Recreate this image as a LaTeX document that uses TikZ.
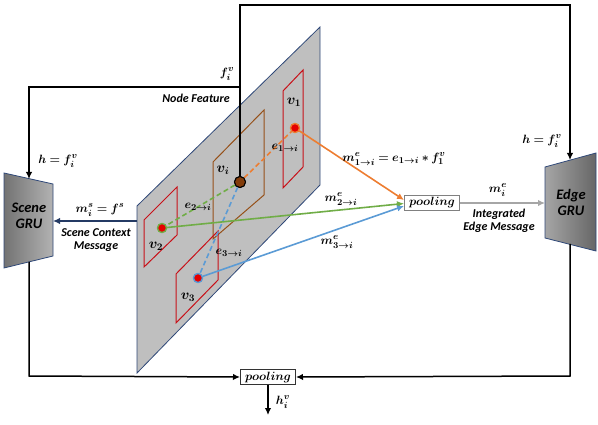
\documentclass[tikz,border=0pt]{standalone}
\usepackage{fontspec}
\setsansfont{Carlito}
\usepackage{amsmath,bm}
\usetikzlibrary{arrows.meta}

\definecolor{planegray}{RGB}{191,191,191}
\definecolor{planeblue}{RGB}{47,72,120}
\definecolor{boxred}{RGB}{200,16,24}
\definecolor{boxbrown}{RGB}{150,80,25}
\definecolor{dotbrown}{RGB}{130,60,10}
\definecolor{edgeorange}{RGB}{237,125,49}
\definecolor{edgegreen}{RGB}{112,173,71}
\definecolor{edgeblue}{RGB}{91,155,213}
\definecolor{ctxblue}{RGB}{36,58,100}

\begin{document}
\begin{tikzpicture}[x=1pt, y=-1pt, >={Latex[length=7pt,width=6.5pt]},
    lbl/.style={font=\sffamily\bfseries\itshape\fontsize{12}{13.5}\selectfont, align=center, inner sep=0pt},
    mth/.style={font=\fontsize{13}{14}\selectfont, inner sep=0pt},
    wire/.style={line width=1.5pt},
    vdot/.style={circle, draw, line width=1.2pt, fill=red!90!black, inner sep=0pt, minimum size=9pt},
    poolbox/.style={draw, line width=1pt, inner sep=0pt, minimum width=55pt, minimum height=15.5pt, font=\fontsize{12.5}{13}\selectfont}]
    \useasboundingbox (0,0) rectangle (598,425);

    % feature plane with the four node regions
    \filldraw[fill=planegray, draw=planeblue, line width=0.8pt] (137,206) -- (320,27) -- (320,185) -- (137,373) -- cycle;
    \draw[boxred, line width=1pt] (283,91) -- (303,70) -- (303,167) -- (283,188) -- cycle;
    \draw[boxbrown, line width=1pt] (213,162) -- (264,110) -- (264,195) -- (213,239) -- cycle;
    \draw[boxred, line width=1pt] (144,220) -- (177,187) -- (177,235) -- (144,267) -- cycle;
    \draw[boxred, line width=1pt] (176,274) -- (218,231) -- (218,280) -- (176,323) -- cycle;

    \node[font=\fontsize{14}{14}\selectfont] (l1) at (294,102) {$\bm{v_1}$};
    \node[font=\fontsize{14}{14}\selectfont] (li) at (223,170) {$\bm{v_i}$};
    \node[font=\fontsize{14}{14}\selectfont] (l2) at (156,246) {$\bm{v_2}$};
    \node[font=\fontsize{14}{14}\selectfont] (l3) at (188,297) {$\bm{v_3}$};

    % GRU blocks
    \shadedraw[left color=black!55, right color=black!30, draw=planeblue, line width=0.8pt] (4,173) -- (53,184) -- (53,256) -- (4,268) -- cycle;
    \shadedraw[left color=black!35, right color=black!60, draw=planeblue, line width=0.8pt] (545,167) -- (596,153) -- (596,251) -- (545,238) -- cycle;
    \node[lbl, font=\sffamily\bfseries\itshape\fontsize{14.5}{16}\selectfont] (scene) at (29,216) {Scene\\GRU};
    \node[lbl, font=\sffamily\bfseries\itshape\fontsize{14.5}{16}\selectfont] (edge) at (571,202) {Edge\\GRU};
    \coordinate (sceneT) at (29,179);
    \coordinate (sceneB) at (29,262);
    \coordinate (sceneR) at (53,221);
    \coordinate (edgeT) at (570,160);
    \coordinate (edgeB) at (570,244);
    \coordinate (edgeL) at (545,203);

    % node dots
    \node[vdot, draw=edgeorange] (v1) at (295,128) {};
    \node[vdot, draw=edgegreen] (v2) at (162,228) {};
    \node[vdot, draw=edgeblue] (v3) at (198,278) {};
    \node[circle, draw=black, line width=1pt, fill=dotbrown, inner sep=0pt, minimum size=11pt] (vi) at (240,182) {};

    % pooling boxes
    \node[poolbox, draw=black!50] (poolE) at (432,203) {$\bm{pooling}$};
    \node[poolbox, draw=black!80] (poolH) at (268,377) {$\bm{pooling}$};

    % node feature wires
    \coordinate (topL) at (240,5);
    \coordinate (topR) at (570,5);
    \coordinate (nf) at (240,87);
    \coordinate (nfL) at (29,87);
    \draw[wire, ->] (vi) -- (topL) -- (topR) -- (edgeT);
    \draw[wire, ->] (nf) -- (nfL) -- (sceneT);
    \node[mth] (fiv) at (227,74) {$\bm{f_i^v}$};
    \node[lbl] (nflbl) at (196,98) {Node Feature};
    \node[mth] (hl) at (58,161) {$\bm{h = f_i^v}$};
    \node[mth] (hr) at (542,141) {$\bm{h = f_i^v}$};

    % edges between nodes
    \draw[edgeorange, line width=1.6pt, dash pattern=on 5pt off 3pt] (vi) -- (v1);
    \draw[edgegreen, line width=1.6pt, dash pattern=on 5pt off 3pt] (vi) -- (v2);
    \draw[edgeblue, line width=1.6pt, dash pattern=on 5pt off 3pt] (vi) -- (v3);
    \node[mth] (e1) at (285,148) {$\bm{e_{1\to i}}$};
    \node[mth] (e2) at (198,207) {$\bm{e_{2\to i}}$};
    \node[mth] (e3) at (229,253) {$\bm{e_{3\to i}}$};

    % edge messages
    \draw[edgeorange, line width=1.6pt, ->] (v1) -- ([yshift=3pt]poolE.west);
    \draw[edgegreen, line width=1.6pt, ->] (v2) -- ([yshift=-0.5pt]poolE.west);
    \draw[edgeblue, line width=1.6pt, ->] (v3) -- ([yshift=-3pt]poolE.west);
    \node[mth] (m1) at (394,159) {$\bm{m^e_{1\to i} = e_{1\to i} * f_1^v}$};
    \node[mth] (m2) at (341,199) {$\bm{m^e_{2\to i}}$};
    \node[mth] (m3) at (337,242) {$\bm{m^e_{3\to i}}$};
    \node[vdot, draw=edgeorange] at (v1) {};
    \node[vdot, draw=edgegreen] at (v2) {};
    \node[vdot, draw=edgeblue] at (v3) {};
    \node[circle, draw=black, line width=1pt, fill=dotbrown, inner sep=0pt, minimum size=11pt] at (vi) {};

    % integrated edge message
    \draw[black!35, line width=2pt, ->] (poolE) -- (edgeL);
    \node[mth] (mie) at (498,190) {$\bm{m_i^e}$};
    \node[lbl] (iem) at (499,221) {Integrated\\Edge Message};

    % scene context message
    \coordinate (ctx) at (137,221);
    \draw[ctxblue, line width=1.6pt, ->] (ctx) -- (sceneR);
    \node[mth] (mis) at (100,210) {$\bm{m_i^s = f^s}$};
    \node[lbl] (scm) at (96,240) {Scene Context\\Message};

    % hidden state pooling
    \coordinate (botL) at (29,376);
    \coordinate (botR) at (570,376);
    \coordinate (hout) at (268,415);
    \draw[wire, ->] (sceneB) -- (botL) -- (poolH.west);
    \draw[wire, ->] (edgeB) -- (botR) -- (poolH.east);
    \draw[wire, ->] (poolH.south) -- (hout);
    \node[mth] (hiv) at (283,402) {$\bm{h_i^v}$};
\end{tikzpicture}
\end{document}
